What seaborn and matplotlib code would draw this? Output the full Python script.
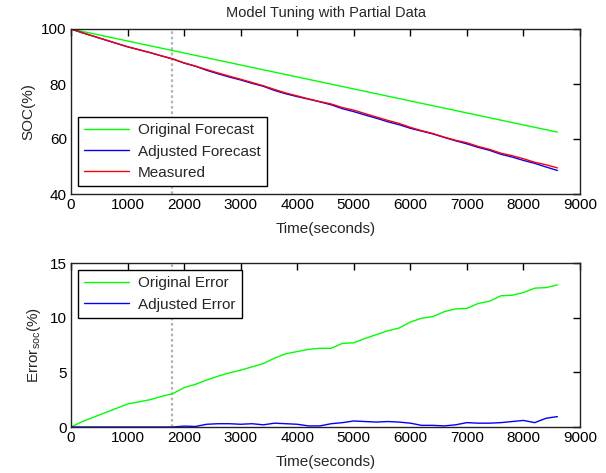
import matplotlib
matplotlib.use("Agg")
import matplotlib.pyplot as plt
import seaborn as sns
import pandas as pd

# ---- data ----
time_s = [0, 200, 400, 600, 800, 1000, 1200, 1400, 1600, 1800, 2000, 2200, 2400,
          2600, 2800, 3000, 3200, 3400, 3600, 3800, 4000, 4200, 4400, 4600, 4800,
          5000, 5200, 5400, 5600, 5800, 6000, 6200, 6400, 6600, 6800, 7000, 7200,
          7400, 7600, 7800, 8000, 8200, 8400, 8600]

forecast_time = [0, 8600]
original_forecast = [100.0, 62.5]

measured = [100.0, 98.63, 97.36, 96.08, 94.81, 93.54, 92.47, 91.40, 90.22, 89.10,
            87.68, 86.51, 85.23, 84.01, 82.84, 81.72, 80.55, 79.37, 78.00, 76.73,
            75.66, 74.59, 73.61, 72.74, 71.42, 70.50, 69.23, 68.00, 66.78, 65.66,
            64.24, 63.02, 61.99, 60.67, 59.55, 58.63, 57.30, 56.23, 54.86, 53.94,
            52.82, 51.54, 50.62, 49.50]

adjusted_forecast = [100.0, 98.63, 97.36, 96.08, 94.81, 93.54, 92.47, 91.40, 90.22, 89.10,
                     87.60, 86.46, 84.98, 83.71, 82.54, 81.47, 80.25, 79.17, 77.65, 76.43,
                     75.41, 74.49, 73.51, 72.44, 71.02, 69.95, 68.73, 67.55, 66.28, 65.21,
                     63.89, 62.87, 61.84, 60.57, 59.35, 58.23, 56.95, 55.88, 54.46, 53.44,
                     52.22, 51.14, 49.82, 48.55]

original_error = [0.0, 0.5, 0.9, 1.3, 1.7, 2.1, 2.3, 2.5, 2.8, 3.05,
                  3.6, 3.9, 4.3, 4.65, 4.95, 5.2, 5.5, 5.8, 6.3, 6.7,
                  6.9, 7.1, 7.2, 7.2, 7.65, 7.7, 8.1, 8.45, 8.8, 9.05,
                  9.6, 9.95, 10.1, 10.55, 10.8, 10.85, 11.3, 11.5, 12.0, 12.05,
                  12.3, 12.7, 12.75, 13.0]

adjusted_error = [0.0, 0.0, 0.0, 0.0, 0.0, 0.0, 0.0, 0.0, 0.0, 0.0,
                  0.08, 0.05, 0.25, 0.3, 0.3, 0.25, 0.3, 0.2, 0.35, 0.3,
                  0.25, 0.1, 0.1, 0.3, 0.4, 0.55, 0.5, 0.45, 0.5, 0.45,
                  0.35, 0.15, 0.15, 0.1, 0.2, 0.4, 0.35, 0.35, 0.4, 0.5,
                  0.6, 0.4, 0.8, 0.95]

tuning_time = 1780

x_ticks = [0, 1000, 2000, 3000, 4000, 5000, 6000, 7000, 8000, 9000]
soc_ticks = [40, 60, 80, 100]
err_ticks = [0, 5, 10, 15]

# ---- style ----
sns.set_style("white")
plt.rcParams["font.family"] = ["Liberation Sans", "DejaVu Sans"]
plt.rcParams["mathtext.default"] = "regular"
plt.rcParams["mathtext.fontset"] = "custom"
plt.rcParams["mathtext.rm"] = "Liberation Sans"

FS = 11
fig = plt.figure(figsize=(6.06, 4.73), dpi=100)
ax1 = fig.add_axes([71/606, 1-194/473, 509/606, 165/473])
ax2 = fig.add_axes([71/606, 1-427/473, 509/606, 164/473])

soc_df = pd.DataFrame({"t": time_s, "meas": measured, "adj": adjusted_forecast,
                       "oerr": original_error, "aerr": adjusted_error})
of_df = pd.DataFrame({"t": forecast_time, "of": original_forecast})

for ax in (ax1, ax2):
    ax.axvline(tuning_time, color="#b4b4b4", linestyle=(0, (1.2, 1.2)), linewidth=1.6, zorder=1)

sns.lineplot(data=of_df, x="t", y="of", ax=ax1, color="#00ff00", linewidth=1.0, label="Original Forecast")
sns.lineplot(data=soc_df, x="t", y="adj", ax=ax1, color="#0000ff", linewidth=1.0, label="Adjusted Forecast")
sns.lineplot(data=soc_df, x="t", y="meas", ax=ax1, color="#ff0000", linewidth=1.0, label="Measured")

sns.lineplot(data=soc_df, x="t", y="oerr", ax=ax2, color="#00ff00", linewidth=1.0, label="Original Error")
sns.lineplot(data=soc_df, x="t", y="aerr", ax=ax2, color="#0000ff", linewidth=1.0, label="Adjusted Error")

ax1.set_ylim(40, 100)
ax1.set_yticks(soc_ticks)
ax2.set_ylim(0, 15)
ax2.set_yticks(err_ticks)

for ax in (ax1, ax2):
    ax.set_xlim(0, 9000)
    ax.set_xticks(x_ticks)
    ax.tick_params(direction="in", length=5, width=1, top=True, right=True,
                   labelsize=FS, colors="black", pad=3)
    for sp in ax.spines.values():
        sp.set_color("#222222")
        sp.set_linewidth(1.0)
        sp.set_visible(True)
    ax.set_xlabel("Time(seconds)", fontsize=FS, labelpad=7)

ax1.set_ylabel("SOC(%)", fontsize=FS, labelpad=4)
ax2.set_ylabel("Error$_{soc}$(%)", fontsize=FS, labelpad=5)
ax1.set_title("Model Tuning with Partial Data", fontsize=10.5, pad=9)

leg_kw = dict(loc="upper left", borderaxespad=0, fancybox=False, framealpha=1,
              edgecolor="black", fontsize=FS, handlelength=2.9, handletextpad=0.6,
              labelspacing=0.47, borderpad=0.42)
l1 = ax1.legend(bbox_to_anchor=(7/509, (194-117)/165), **leg_kw)
l2 = ax2.legend(bbox_to_anchor=(7/509, (427-270)/164), **leg_kw)
for l in (l1, l2):
    l.get_frame().set_linewidth(1.0)
    l.set_zorder(5)

fig.savefig("out.png", dpi=100)
